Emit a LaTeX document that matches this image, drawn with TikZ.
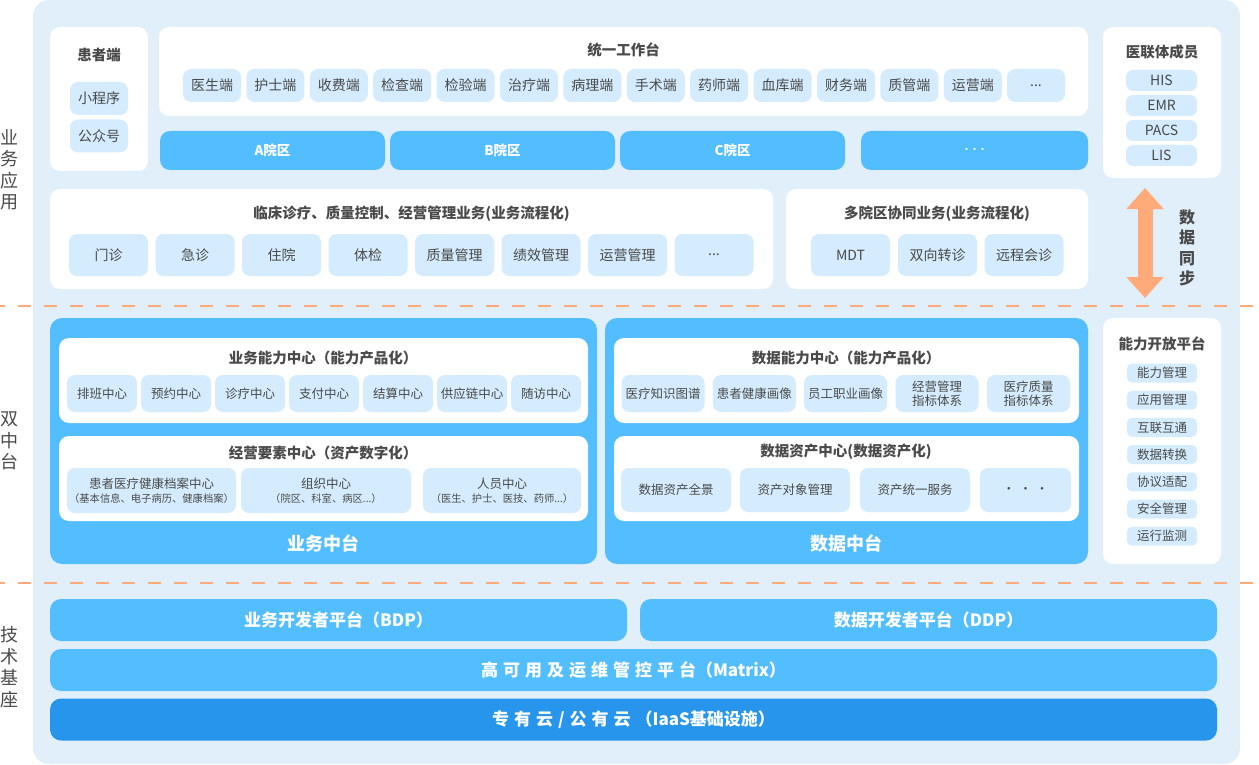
\documentclass[tikz,border=0pt]{standalone}
\usepackage{fontspec}
\setmainfont{Noto Sans CJK SC}
\usetikzlibrary{arrows.meta}
\definecolor{bgc}{HTML}{E1EFFB}
\definecolor{pillc}{HTML}{D4ECFD}
\definecolor{bluec}{HTML}{52BEFF}
\definecolor{dbluec}{HTML}{2695EB}
\definecolor{orc}{HTML}{FFAA78}
\definecolor{txtc}{HTML}{4A4A4A}
\def\gp{\hspace{5pt}}
\begin{document}
\begin{tikzpicture}[x=1pt,y=-1pt,
  every node/.style={inner sep=0pt, text=txtc},
  panel/.style={fill=white, rounded corners=10pt},
  bluepanel/.style={fill=bluec, rounded corners=12pt},
  title/.style={font=\bfseries\fontsize{14.5}{17}\selectfont, text=txtc},
  side/.style={align=center, font=\fontsize{18}{21.5}\selectfont},
  pill/.style={fill=pillc, rounded corners=8pt, font=\fontsize{14}{16}\selectfont},
  spill/.style={fill=pillc, rounded corners=8pt, font=\fontsize{12.5}{14.5}\selectfont, align=center},
  tpill/.style={fill=pillc, rounded corners=5pt, font=\fontsize{12.5}{14}\selectfont},
  campus/.style={fill=bluec, rounded corners=10pt, text=white, font=\bfseries\fontsize{13.5}{16}\selectfont, minimum width=225, minimum height=39},
  base/.style={fill=bluec, rounded corners=11pt, text=white, font=\bfseries\fontsize{17}{20}\selectfont, minimum height=42},
  midtitle/.style={text=white, font=\bfseries\fontsize{18}{20}\selectfont}
]
\useasboundingbox (0,0) rectangle (1259,765);
% background
\fill[bgc, rounded corners=16pt] (33,0) rectangle (1240,764);

% side labels
\node[side] (lab1) at (10,170) {业\\务\\应\\用};
\node[side] (lab2) at (10,441) {双\\中\\台};
\node[side] (lab3) at (10,667) {技\\术\\基\\座};

% dashed separators
\draw[orc, line width=2.5pt, dash pattern=on 13pt off 13pt, dash phase=8pt] (0,306) -- (1259,306);
\draw[orc, line width=2.5pt, dash pattern=on 13pt off 13pt, dash phase=8pt] (0,583) -- (1259,583);

% 患者端
\fill[panel] (50,27) rectangle (148,171);
\node[title] (hzd) at (99,55) {患者端};
\node[pill, minimum width=58, minimum height=33] (xcx) at (99,98.5) {小程序};
\node[pill, minimum width=58, minimum height=33] (gzh) at (99,136) {公众号};

% 统一工作台
\fill[panel] (159,27) rectangle (1088,116);
\node[title] (tygzt) at (623.5,50) {统一工作台};
\foreach \t [count=\i from 0] in {医生端,护士端,收费端,检查端,检验端,治疗端,病理端,手术端,药师端,血库端,财务端,质管端,运营端}
  \node[pill, minimum width=58, minimum height=33] (w\i) at ({212+63.4*\i},85.5) {\t};
\node[pill, minimum width=58, minimum height=33] (w13) at (1036,85.5) {...};

% campus bars
\node[campus] (ca) at (272.5,150.5) {A院区};
\node[campus] (cb) at (502.5,150.5) {B院区};
\node[campus] (cc) at (732.5,150.5) {C院区};
\node[campus, minimum width=227] (cd) at (974.5,150.5) {\fontsize{8}{8}\selectfont •••};

% 临床诊疗
\fill[panel] (50,189) rectangle (773,289);
\node[title] (lc) at (411.5,214) {临床诊疗、质量控制、经营管理业务(业务流程化)};
\foreach \t [count=\i from 0] in {门诊,急诊,住院,体检,质量管理,绩效管理,运营管理}
  \node[pill, minimum width=79, minimum height=42] (b\i) at ({108.5+86.5*\i},255) {\t};
\node[pill, minimum width=79, minimum height=42] (b7) at (714,255) {...};

% 多院区
\fill[panel] (786,189) rectangle (1088,289);
\node[title] (dyq) at (937,214) {多院区协同业务(业务流程化)};
\node[pill, minimum width=79, minimum height=42] (mdt) at (850.5,255) {MDT};
\node[pill, minimum width=79, minimum height=42] (sxzz) at (937.5,255) {双向转诊};
\node[pill, minimum width=79, minimum height=42] (ychz) at (1024,255) {远程会诊};

% 医联体成员
\fill[panel] (1103,27) rectangle (1221,178);
\node[title] (ylt) at (1162,52) {医联体成员};
\foreach \t [count=\i from 0] in {HIS,EMR,PACS,LIS}
  \node[pill, rounded corners=7pt, minimum width=71, minimum height=21] (m\i) at (1161.5,{80.5+25*\i}) {\t};

% 数据同步
\coordinate (syA) at (1145,188);
\coordinate (syB) at (1145,298);
\draw[orc, line width=15pt, {Triangle[length=21pt,width=36pt]}-{Triangle[length=21pt,width=36pt]}] (syA) -- (syB);
\node[side, font=\bfseries\fontsize{16}{20.5}\selectfont] (sjtb) at (1187,248) {数\\据\\同\\步};

% 业务中台
\fill[bluepanel] (50,318) rectangle (597,564);
\fill[panel] (59,338) rectangle (588,423);
\node[title] (ywnl) at (323,358) {业务能力中心（能力产品化）};
\foreach \t [count=\i from 0] in {排班中心,预约中心,诊疗中心,支付中心,结算中心,供应链中心,随访中心}
  \node[spill, minimum width=70, minimum height=37] (y\i) at ({102+74*\i},393.5) {\t};
\fill[panel] (59,436) rectangle (588,521);
\node[title] (jyys) at (323,453) {经营要素中心（资产数字化）};
\node[spill, minimum width=169, minimum height=45] (hzda) at (151.5,490.5) {患者医疗健康档案中心\\{\fontsize{10.3}{12}\selectfont（基本信息、电子病历、健康档案）}};
\node[spill, minimum width=170, minimum height=45] (zzzx) at (326,490.5) {组织中心\\{\fontsize{10.3}{12}\selectfont（院区、科室、病区...）}};
\node[spill, minimum width=158, minimum height=45] (ryzx) at (502,490.5) {人员中心\\{\fontsize{10.3}{12}\selectfont（医生、护士、医技、药师...）}};
\node[midtitle] (ywzt) at (323,543) {业务中台};

% 数据中台
\fill[bluepanel] (605,318) rectangle (1088,564);
\fill[panel] (614,338) rectangle (1079,423);
\node[title] (sjnl) at (846,358) {数据能力中心（能力产品化）};
\node[spill, minimum width=83, minimum height=37] (d0) at (663,393.5) {医疗知识图谱};
\node[spill, minimum width=83, minimum height=37] (d1) at (754.3,393.5) {患者健康画像};
\node[spill, minimum width=83, minimum height=37] (d2) at (845.6,393.5) {员工职业画像};
\node[spill, minimum width=83, minimum height=37] (d3) at (937,393.5) {经营管理\\指标体系};
\node[spill, minimum width=83, minimum height=37] (d4) at (1028.5,393.5) {医疗质量\\指标体系};
\fill[panel] (614,436) rectangle (1079,521);
\node[title] (sjzc) at (846,452) {数据资产中心(数据资产化)};
\node[spill, minimum width=110, minimum height=44] (a0) at (676,490) {数据资产全景};
\node[spill, minimum width=110, minimum height=44] (a1) at (795,490) {资产对象管理};
\node[spill, minimum width=110, minimum height=44] (a2) at (915,490) {资产统一服务};
\node[spill, minimum width=91, minimum height=44] (a3) at (1025.5,490) {·\,\,·\,\,·};
\node[midtitle] (sjzt) at (846,543) {数据中台};

% 能力开放平台
\fill[panel] (1103,318) rectangle (1221,564);
\node[title] (nlkf) at (1162,344) {能力开放平台};
\foreach \t [count=\i from 0] in {能力管理,应用管理,互联互通,数据转换,协议适配,安全管理,运行监测}
  \node[tpill, minimum width=70, minimum height=19] (k\i) at (1162,{373+27.2*\i}) {\t};

% 技术基座
\node[base, minimum width=577] (bdp) at (338.5,620) {业务开发者平台（BDP）};
\node[base, minimum width=577] (ddp) at (928.5,620) {数据开发者平台（DDP）};
\node[base, minimum width=1167] (mtx) at (633.5,670) {高\gp 可\gp 用\gp 及\gp 运\gp 维\gp 管\gp 控\gp 平\gp 台（Matrix）};
\node[base, fill=dbluec, minimum width=1167] (iaas) at (633.5,719.5) {专\gp 有\gp 云\gp /\gp 公\gp 有\gp 云\gp （IaaS基础设施）};
\end{tikzpicture}
\end{document}
